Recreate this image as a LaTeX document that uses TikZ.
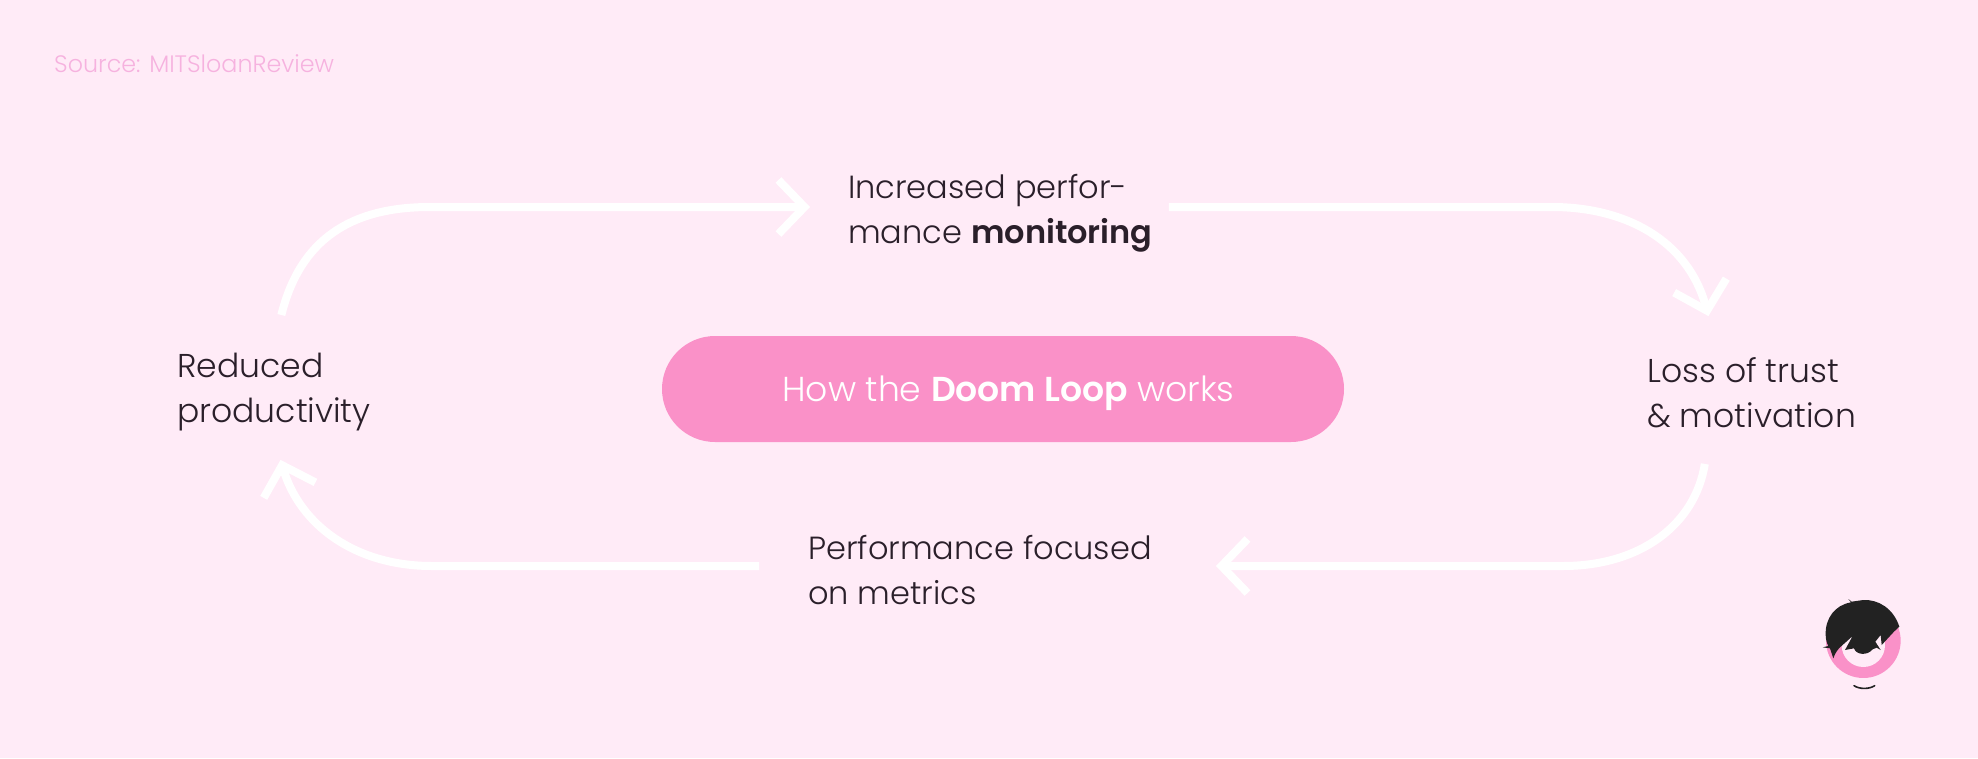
\documentclass[tikz,border=0pt]{standalone}
\usepackage{fontspec}
\setmainfont{Poppins}[UprightFont=* Light,BoldFont=* SemiBold]
\usetikzlibrary{arrows.meta}
\definecolor{bgpink}{HTML}{FFEBF7}
\definecolor{pillpink}{HTML}{FA91C8}
\definecolor{srcpink}{HTML}{F6B2DF}
\definecolor{ink}{HTML}{2A1F2A}
\definecolor{hair}{HTML}{222222}
\tikzset{
  x=1pt,y=-1pt,
  label/.style={inner sep=0pt,align=left,anchor=west,text=ink,font=\fontsize{32}{45}\selectfont},
  widelabel/.style={label,font=\fontsize{33}{45}\selectfont},
  flow/.style={draw=white,line width=8pt,-{Straight Barb[length=26pt,width=54pt,line width=8pt]}},
  pill/.style={fill=pillpink,rounded corners=53pt,minimum width=682pt,minimum height=106pt,inner sep=0pt,text=white,font=\fontsize{34.6}{40}\selectfont},
}
\begin{document}
\begin{tikzpicture}
\fill[bgpink] (0,0) rectangle (1978,758);
\useasboundingbox (0,0) rectangle (1978,758);
\node[anchor=west,inner sep=0pt,text=srcpink,font=\fontsize{23.8}{28}\selectfont] (source) at (54,64) {Source: MITSloanReview};
\node[pill] (title) at (1003,389) {\hspace*{11pt}\rule{0pt}{34pt}How the \textbf{Doom Loop} works};
\node[label] (increased) at (848,213) {Increased perfor-\\mance \textbf{monitoring}};
\node[widelabel] (loss) at (1647,393) {Loss of trust\\\& motivation};
\node[label] (metrics) at (808,570) {Performance focused\\on metrics};
\node[widelabel] (reduced) at (177,392) {Reduced\\productivity};
\draw[flow,shorten <=39pt,shorten >=38pt] ([xshift=-2pt]reduced.north) .. controls (300,240) and (350,207) .. (430,207) -- ([yshift=6pt]increased.west);
\draw[flow,shorten <=16pt,shorten >=43pt] ([yshift=6pt]increased.east) -- (1552,207) .. controls (1625,207) and (1688,240) .. ([xshift=-32pt]loss.north);
\draw[flow,shorten <=36pt,shorten >=64pt] ([xshift=-41pt]loss.south) .. controls (1695,525) and (1640,566) .. (1563,566) -- ([yshift=4pt]metrics.east);
\draw[flow,shorten <=49pt,shorten >=30pt] ([yshift=4pt]metrics.west) -- (432,566) .. controls (355,566) and (300,525) .. ([xshift=-2pt]reduced.south);
% logo
\begin{scope}[shift={(1780,570)},x=0.3333pt,y=-0.3333pt]
\fill[pillpink] (250,212) circle[radius=112];
\fill[bgpink] (250,226) circle[radius=65];
\fill[hair] (160,265) .. controls (165,250) and (172,240) .. (180,232) -- (218,198) -- (195,240) -- (222,235)
  .. controls (228,255) and (262,258) .. (278,238) -- (290,233) -- (302,240) -- (286,215) -- (302,195) -- (305,225) -- (342,185) -- (358,170)
  .. controls (340,115) and (295,88) .. (250,90) -- (215,95) -- (205,87) -- (213,97)
  .. controls (165,105) and (135,145) .. (137,195) .. controls (137,205) and (140,220) .. (145,228) -- (128,232) -- (150,235) -- cycle;
\draw[hair,line width=1.6pt,line cap=round] (222,347) .. controls (238,358) and (268,358) .. (284,347);
\end{scope}
\end{tikzpicture}
\end{document}
